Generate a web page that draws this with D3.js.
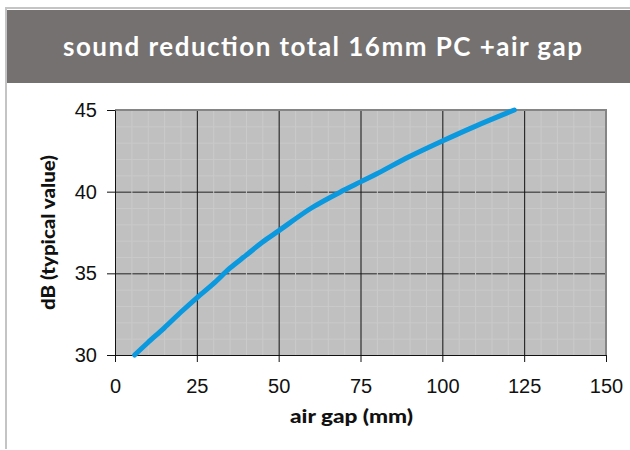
<!DOCTYPE html>
<html>
<head>
<meta charset="utf-8">
<script src="https://cdn.jsdelivr.net/npm/d3@7"></script>
<style>
  body { margin: 0; background: #fff; }
  svg { display: block; }
</style>
</head>
<body>
<svg id="chart" width="630" height="450"></svg>
<script>
// data
const airGap = [6, 10, 15, 20, 25, 30, 35, 40, 45, 50, 60, 70, 75, 80, 90, 100, 110, 122];
const dB     = [30, 30.75, 31.65, 32.6, 33.5, 34.35, 35.3, 36.1, 36.9, 37.6, 39.0, 40.1, 40.6, 41.1, 42.15, 43.1, 44.0, 45];
const xTicks = [0, 25, 50, 75, 100, 125, 150];
const yTicks = [30, 35, 40, 45];

const svg = d3.select("#chart");

// frame + title banner
svg.append("path")
  .attr("d", "M6,449 V8 H630")
  .attr("fill", "none")
  .attr("stroke", "#c4c4c4")
  .attr("stroke-width", 2);
svg.append("rect")
  .attr("x", 7).attr("y", 10)
  .attr("width", 623).attr("height", 73)
  .attr("fill", "#747170");
svg.append("text")
  .attr("x", 63).attr("y", 56)
  .attr("textLength", 519)
  .attr("lengthAdjust", "spacing")
  .style("font-family", "Lato, 'Open Sans', sans-serif")
  .style("font-weight", 700)
  .style("font-size", "26px")
  .attr("fill", "#fff")
  .text("sound reduction total 16mm PC +air gap");

const x = d3.scaleLinear().domain([0, 150]).range([115, 606]);
const y = d3.scaleLinear().domain([30, 45]).range([355, 110]);

// plot background
svg.append("rect")
  .attr("x", x(0)).attr("y", y(45))
  .attr("width", x(150) - x(0)).attr("height", y(30) - y(45))
  .attr("fill", "#c0c0c0");

const minorX = d3.range(5, 150, 5).filter(d => d % 25 !== 0);
const minorY = d3.range(31, 45, 1).filter(d => d % 5 !== 0);
const g = svg.append("g");

g.selectAll(".mh").data(minorY).enter().append("line")
  .attr("x1", x(0)).attr("x2", x(150))
  .attr("y1", d => y(d) + 0.5).attr("y2", d => y(d) + 0.5)
  .attr("stroke", "#c9c9c9");
g.selectAll(".Mh").data(yTicks.slice(1, 3)).enter().append("line")
  .attr("x1", x(0)).attr("x2", x(150))
  .attr("y1", d => y(d) + 0.5).attr("y2", d => y(d) + 0.5)
  .attr("stroke", "#222");
g.selectAll(".mv").data(minorX).enter().append("line")
  .attr("x1", d => x(d) + 0.5).attr("x2", d => x(d) + 0.5)
  .attr("y1", y(45)).attr("y2", y(30))
  .attr("stroke", "#cacaca");
g.selectAll(".Mv").data(xTicks.slice(1, 6)).enter().append("line")
  .attr("x1", d => x(d) + 0.5).attr("x2", d => x(d) + 0.5)
  .attr("y1", y(45)).attr("y2", y(30))
  .attr("stroke", "#111");

// top / right border
svg.append("path")
  .attr("d", `M${x(0)},${y(45)} H${x(150)} V${y(30)}`)
  .attr("fill", "none")
  .attr("stroke", "#858585")
  .attr("stroke-width", 2);

// axes
const xAxis = svg.append("g")
  .attr("transform", `translate(0,${y(30)})`)
  .call(d3.axisBottom(x).tickValues(xTicks).tickSize(7).tickSizeOuter(0).tickPadding(17));
const yAxis = svg.append("g")
  .attr("transform", `translate(${x(0)},0)`)
  .call(d3.axisLeft(y).tickValues(yTicks).tickSize(8).tickSizeOuter(0).tickPadding(10));

[xAxis, yAxis].forEach(a => {
  a.selectAll("path, line").attr("stroke", "#111");
  a.selectAll("text")
    .attr("fill", "#111")
    .style("font-family", "'Liberation Sans', Arial, sans-serif")
    .style("font-size", "20px");
});

// line
const line = d3.line()
  .x((d, i) => x(airGap[i]))
  .y(d => y(d))
  .curve(d3.curveCatmullRom);

svg.append("path")
  .datum(dB)
  .attr("d", line)
  .attr("fill", "none")
  .attr("stroke", "#0a98de")
  .attr("stroke-width", 5)
  .attr("stroke-linecap", "round");

// axis titles
svg.append("text")
  .attr("x", 290).attr("y", 423)
  .attr("textLength", 123)
  .attr("lengthAdjust", "spacingAndGlyphs")
  .style("font-family", "Lato, sans-serif")
  .style("font-weight", 900)
  .style("font-size", "18px")
  .attr("fill", "#111")
  .text("air gap (mm)");

svg.append("text")
  .attr("transform", "translate(55,310) rotate(-90)")
  .attr("textLength", 155)
  .attr("lengthAdjust", "spacingAndGlyphs")
  .style("font-family", "Lato, sans-serif")
  .style("font-weight", 900)
  .style("font-size", "18px")
  .attr("fill", "#111")
  .text("dB (typical value)");
</script>
</body>
</html>
